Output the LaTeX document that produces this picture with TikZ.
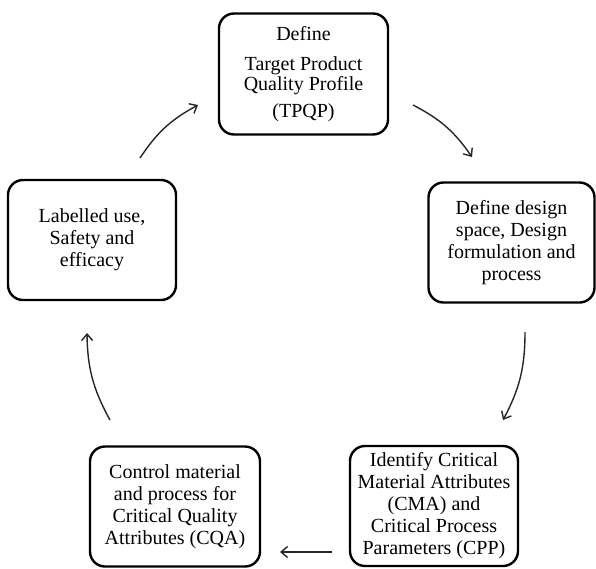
\documentclass[tikz,border=0pt]{standalone}
\usepackage{fontspec}
\setmainfont{Liberation Serif}
\usetikzlibrary{arrows.meta}
\begin{document}
\begin{tikzpicture}[x=1pt,y=-1pt,
  stagebox/.style={draw=black, line width=2.4pt, rounded corners=15pt,
    minimum width=168pt, minimum height=120pt, align=center, inner sep=2pt,
    font=\fontsize{20}{22}\selectfont},
  cyclearrow/.style={line width=1.4pt, draw=black!85,
    -{Straight Barb[length=6.5pt,width=11pt,line width=1.4pt]}}]
\useasboundingbox (0,0) rectangle (596,568);
\node[stagebox, minimum width=169pt, minimum height=121pt] (b1) at (303.5,74)
  {Define\\[8pt]Target Product\\[-2pt]Quality Profile\\[5pt](TPQP)};
\node[stagebox, minimum width=166pt] (b2) at (511.5,242.5)
  {Define design\\space, Design\\formulation and\\process};
\node[stagebox] (b3) at (434,506)
  {Identify Critical\\Material Attributes\\(CMA) and\\Critical Process\\Parameters (CPP)};
\node[stagebox, minimum width=170pt] (b4) at (175,506.5)
  {Control material\\and process for\\Critical Quality\\Attributes (CQA)};
\node[stagebox] (b5) at (92,240)
  {Labelled use,\\Safety and\\efficacy};
\coordinate (a1s) at (140,158); \coordinate (a1e) at (198,105);
\coordinate (a2s) at (413,105); \coordinate (a2e) at (472,157);
\coordinate (a3s) at (525,332); \coordinate (a3e) at (503,420);
\coordinate (a4s) at (332,552); \coordinate (a4e) at (280,552);
\coordinate (a5s) at (110,420); \coordinate (a5e) at (87,333);
\draw[cyclearrow] (a1s) to[bend left=14] (a1e);
\draw[cyclearrow] (a2s) to[bend left=14] (a2e);
\draw[cyclearrow] (a3s) to[bend left=14] (a3e);
\draw[cyclearrow] (a4s) -- (a4e);
\draw[cyclearrow] (a5s) to[bend left=14] (a5e);
\end{tikzpicture}
\end{document}
